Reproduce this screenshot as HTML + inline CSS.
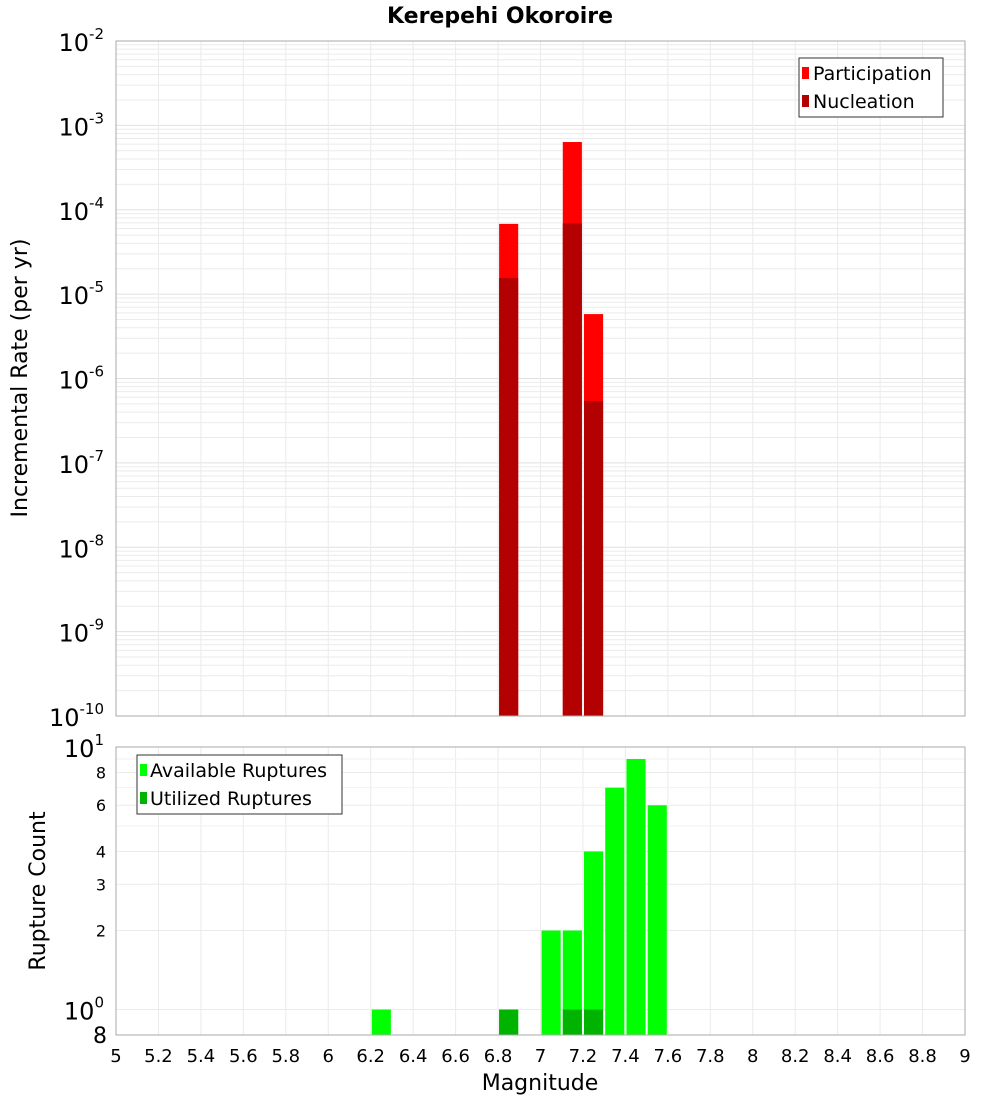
<!DOCTYPE html>
<html><head><meta charset="utf-8"><style>
body{margin:0;background:#fff;font-family:"DejaVu Sans","Liberation Sans",sans-serif;}
svg text{font-family:"DejaVu Sans","Liberation Sans",sans-serif;}
</style></head><body>
<svg id="c" width="1000" height="1100" xmlns="http://www.w3.org/2000/svg">
<text x="500" y="23" text-anchor="middle" font-size="22" font-weight="bold">Kerepehi Okoroire</text>
<g id="gtop"></g><g id="gbot"></g>
<text transform="translate(27,378) rotate(-90)" text-anchor="middle" font-size="22">Incremental Rate (per yr)</text>
<text transform="translate(45,891) rotate(-90)" text-anchor="middle" font-size="22">Rupture Count</text>
<text x="540" y="1090" text-anchor="middle" font-size="22">Magnitude</text>
</svg>
<script>
const binCenters=[6.85,7.15,7.25];
const participation=[6.8e-5,6.35e-4,5.8e-6];
const nucleation=[1.55e-5,6.9e-5,5.4e-7];
const countBins=[6.25,6.85,7.05,7.15,7.25,7.35,7.45,7.55];
const available=[1,1,2,2,4,7,9,6];
const utilizedBins=[6.85,7.15,7.25];
const utilized=[1,1,1];
const xTicks=[5,5.2,5.4,5.6,5.8,6,6.2,6.4,6.6,6.8,7,7.2,7.4,7.6,7.8,8,8.2,8.4,8.6,8.8,9];
const topDecades=[-10,-9,-8,-7,-6,-5,-4,-3,-2];
const botTicks=[2,3,4,6,8];

const NS="http://www.w3.org/2000/svg";
const L=116,R=965;
const X=m=>L+(m-5)/4*(R-L);
const T0=41,T1=716;
const YT=v=>T0+(-2-Math.log10(v))*(T1-T0)/8;
const B0=747,B1=1035,bmin=Math.log10(0.8),bmax=1;
const YB=v=>B0+(bmax-Math.log10(v))/(bmax-bmin)*(B1-B0);
function el(p,t,a,name){const e=document.createElementNS(NS,t);for(const k in a)e.setAttribute(k,a[k]);


p.appendChild(e);return e;}
const gTop=document.getElementById('gtop'),gBot=document.getElementById('gbot');
for(const d of topDecades){if(d<-2)for(let k=2;k<10;k++){const y=YT(k*Math.pow(10,d));el(gTop,'line',{x1:L,x2:R,y1:y,y2:y,stroke:'#ebebeb','stroke-width':1},'minor-gridline');}
const y=YT(Math.pow(10,d));el(gTop,'line',{x1:L,x2:R,y1:y,y2:y,stroke:'#e0e0e0'},'major-gridline');
const t=el(gTop,'text',{x:104,y:y+10,'text-anchor':'end','font-size':24},'y-tick-label');
t.textContent='10';const s=el(t,'tspan',{dy:-12,'font-size':15},'y-tick-exponent');s.textContent=String(d);}
for(const m of xTicks){el(gTop,'line',{x1:X(m),x2:X(m),y1:T0,y2:T1,stroke:'#ebebeb'},'x-gridline');el(gBot,'line',{x1:X(m),x2:X(m),y1:B0,y2:B1,stroke:'#ebebeb'},'x-gridline');
const t=el(gBot,'text',{x:X(m),y:1062,'text-anchor':'middle','font-size':18},'x-tick-label');t.textContent=String(m);}
binCenters.forEach((c,i)=>{el(gTop,'rect',{x:X(c-0.045),width:X(0.09)-X(0),y:YT(participation[i]),height:T1-YT(participation[i]),fill:'#ff0000'},'participation-bar');
el(gTop,'rect',{x:X(c-0.045),width:X(0.09)-X(0),y:YT(nucleation[i]),height:T1-YT(nucleation[i]),fill:'#b30000'},'nucleation-bar');});
el(gTop,'rect',{x:L,y:T0,width:R-L,height:T1-T0,fill:'none',stroke:'#aaa'},'top-plot-frame');
el(gTop,'rect',{x:799,y:58,width:144,height:59,fill:'#fff',stroke:'#333'},'legend-top');
el(gTop,'rect',{x:802,y:67,width:7,height:12,fill:'#ff0000'},'legend-swatch-participation');
el(gTop,'rect',{x:802,y:95,width:7,height:12,fill:'#b30000'},'legend-swatch-nucleation');
let t=el(gTop,'text',{x:813,y:80,'font-size':19},'legend-entry-participation');t.textContent='Participation';
t=el(gTop,'text',{x:813,y:108,'font-size':19},'legend-entry-nucleation');t.textContent='Nucleation';
for(const v of [1,...botTicks,10]){const y=YB(v);el(gBot,'line',{x1:L,x2:R,y1:y,y2:y,stroke:'#ebebeb'},'y-gridline-bottom');}
for(const v of [5,7,9]){const y=YB(v);el(gBot,'line',{x1:L,x2:R,y1:y,y2:y,stroke:'#f2f2f2'},'y-gridline-bottom');}
for(const v of botTicks){const tt=el(gBot,'text',{x:106,y:YB(v)+6,'text-anchor':'end','font-size':16},'y-tick-label-bottom');tt.textContent=String(v);}
t=el(gBot,'text',{x:104,y:YB(10)+10,'text-anchor':'end','font-size':24},'y-tick-label-bottom');t.textContent='10';
let s=el(t,'tspan',{dy:-12,'font-size':15},'y-tick-exponent');s.textContent='1';
t=el(gBot,'text',{x:104,y:YB(1)+10,'text-anchor':'end','font-size':24},'y-tick-label-bottom');t.textContent='10';
s=el(t,'tspan',{dy:-12,'font-size':15},'y-tick-exponent');s.textContent='0';
t=el(gBot,'text',{x:107,y:1043,'text-anchor':'end','font-size':22},'y-tick-label-bottom');t.textContent='8';
countBins.forEach((c,i)=>{el(gBot,'rect',{x:X(c-0.045),width:X(0.09)-X(0),y:YB(available[i]),height:B1-YB(available[i]),fill:'#00ff00'},'available-bar');});
utilizedBins.forEach((c,i)=>{el(gBot,'rect',{x:X(c-0.045),width:X(0.09)-X(0),y:YB(utilized[i]),height:B1-YB(utilized[i]),fill:'#00b300'},'utilized-bar');});
el(gBot,'rect',{x:L,y:B0,width:R-L,height:B1-B0,fill:'none',stroke:'#aaa'},'bottom-plot-frame');
el(gBot,'rect',{x:137,y:755,width:205,height:59,fill:'#fff',stroke:'#333'},'legend-bottom');
el(gBot,'rect',{x:140,y:764,width:7,height:12,fill:'#00ff00'},'legend-swatch-available');
el(gBot,'rect',{x:140,y:792,width:7,height:12,fill:'#00b300'},'legend-swatch-utilized');
t=el(gBot,'text',{x:150,y:777,'font-size':19},'legend-entry-available');t.textContent='Available Ruptures';
t=el(gBot,'text',{x:150,y:805,'font-size':19},'legend-entry-utilized');t.textContent='Utilized Ruptures';
</script>
</body></html>
